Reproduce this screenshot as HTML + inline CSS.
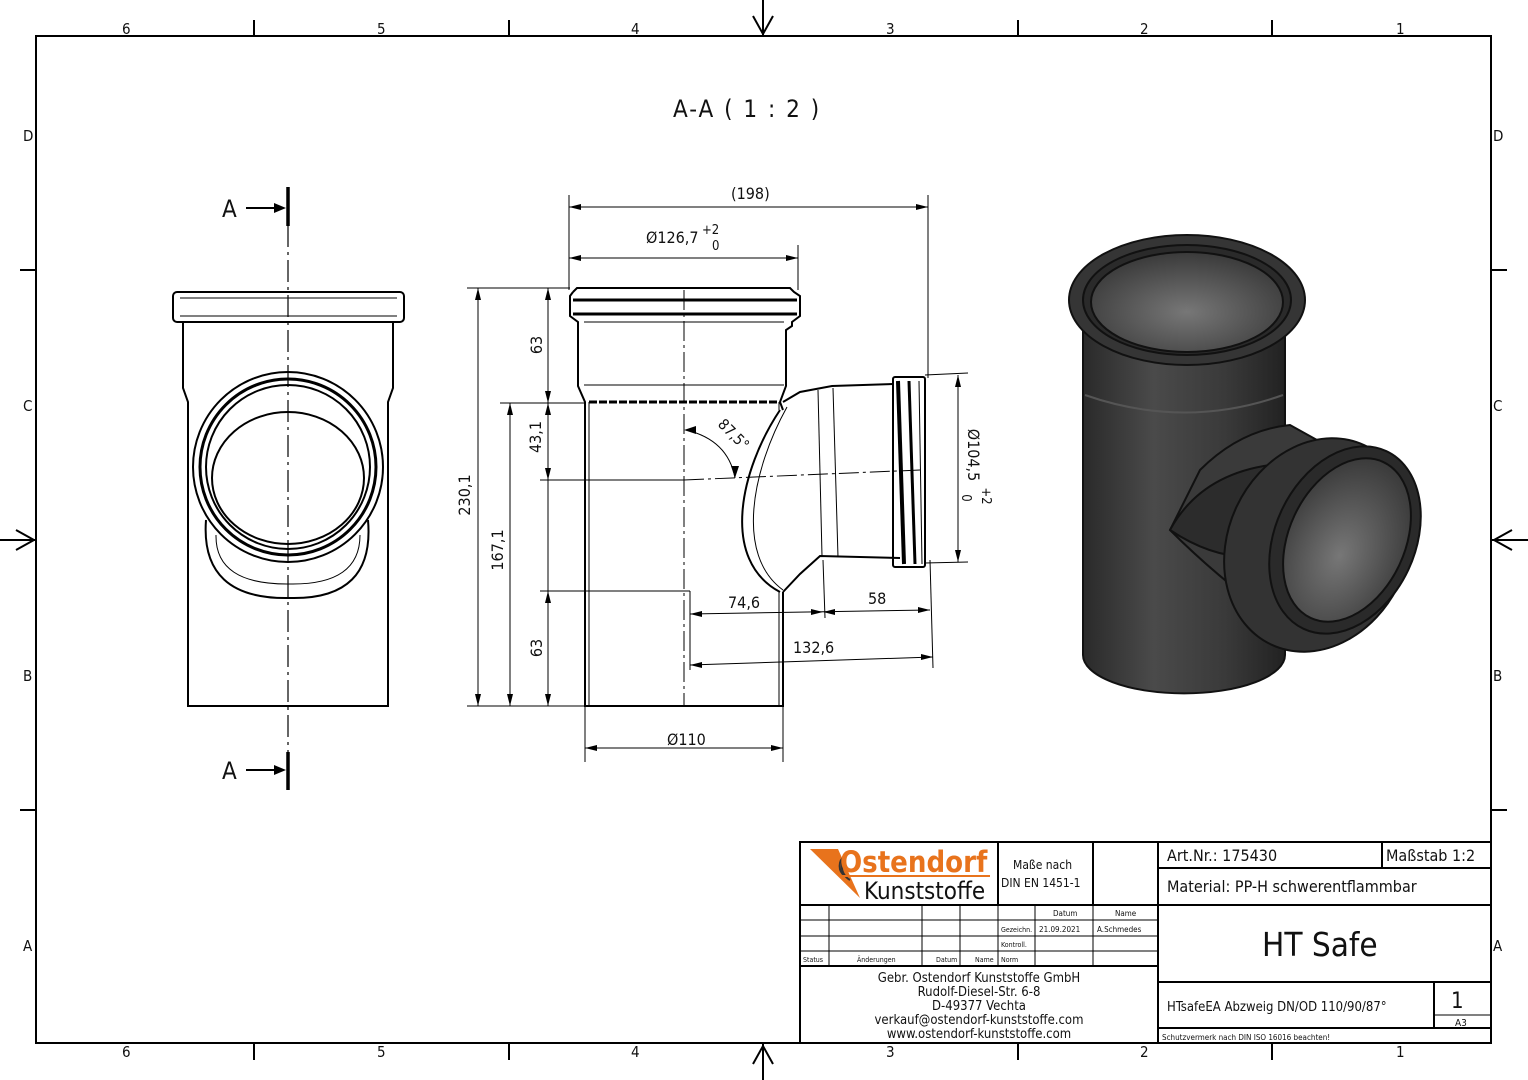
<!DOCTYPE html>
<html><head><meta charset="utf-8"><style>
html,body{margin:0;padding:0;background:#fff}
svg{display:block}
text{font-family:"DejaVu Sans Condensed","Liberation Sans Narrow","Liberation Sans",sans-serif;fill:#111}
</style></head><body>
<svg width="1528" height="1080" viewBox="0 0 1528 1080" xmlns="http://www.w3.org/2000/svg">
<defs>
<linearGradient id="cyl" x1="0" x2="1" y1="0" y2="0">
<stop offset="0" stop-color="#2a2a2a"/><stop offset="0.35" stop-color="#4a4a4a"/><stop offset="0.7" stop-color="#3a3a3a"/><stop offset="1" stop-color="#222"/></linearGradient>
<radialGradient id="inner" cx="0.5" cy="0.6" r="0.6"><stop offset="0" stop-color="#777"/><stop offset="1" stop-color="#3a3a3a"/></radialGradient>
</defs>
<g stroke="#000" fill="none">
<rect x="36" y="36" width="1455" height="1007" stroke-width="2"/>
<g stroke-width="2">
<line x1="254" y1="20" x2="254" y2="36"/><line x1="509" y1="20" x2="509" y2="36"/><line x1="1018" y1="20" x2="1018" y2="36"/><line x1="1272" y1="20" x2="1272" y2="36"/>
<line x1="254" y1="1043" x2="254" y2="1060"/><line x1="509" y1="1043" x2="509" y2="1060"/><line x1="1018" y1="1043" x2="1018" y2="1060"/><line x1="1272" y1="1043" x2="1272" y2="1060"/>
<line x1="20" y1="270" x2="36" y2="270"/><line x1="20" y1="810" x2="36" y2="810"/>
<line x1="1491" y1="270" x2="1507" y2="270"/><line x1="1491" y1="810" x2="1507" y2="810"/>
<line x1="763" y1="0" x2="763" y2="36"/><line x1="763" y1="1043" x2="763" y2="1080"/>
<line x1="0" y1="540" x2="36" y2="540"/><line x1="1491" y1="540" x2="1528" y2="540"/>
<polyline points="753,16 763,34 773,16"/><polyline points="753,1064 763,1046 773,1064"/>
<polyline points="16,530 34,540 16,550"/><polyline points="1512,530 1494,540 1512,550"/>
</g>
</g>
<g font-size="15">
<text x="122" y="34">6</text><text x="377" y="34">5</text><text x="631" y="34">4</text><text x="886" y="34">3</text><text x="1140" y="34">2</text><text x="1396" y="34">1</text>
<text x="122" y="1057">6</text><text x="377" y="1057">5</text><text x="631" y="1057">4</text><text x="886" y="1057">3</text><text x="1140" y="1057">2</text><text x="1396" y="1057">1</text>
<text x="23" y="141">D</text><text x="23" y="411">C</text><text x="23" y="681">B</text><text x="23" y="951">A</text>
<text x="1493" y="141">D</text><text x="1493" y="411">C</text><text x="1493" y="681">B</text><text x="1493" y="951">A</text>
</g>
<text x="673" y="117" font-size="24" letter-spacing="2">A-A ( 1 : 2 )</text>

<!-- LEFT VIEW -->
<g stroke="#000" fill="none" stroke-width="2">
<rect x="173" y="292" width="231" height="30" rx="4"/>
<line x1="180" y1="298" x2="397" y2="298" stroke-width="1"/>
<line x1="180" y1="316" x2="397" y2="316" stroke-width="1"/>
<polyline points="183,322 183,388 188,402 188,706 388,706 388,402 393,388 393,322"/>
<path d="M206,520 Q200,600 290,598 Q375,600 368,520"/>
<path d="M216,535 Q215,585 290,584 Q360,585 360,535" stroke-width="1"/>
<circle cx="288" cy="467" r="95" fill="#fff"/>
<circle cx="288" cy="467" r="88" stroke-width="3"/>
<circle cx="288" cy="467" r="82"/>
<ellipse cx="288" cy="478" rx="76" ry="66"/>
</g>
<line x1="288" y1="190" x2="288" y2="790" stroke="#000" stroke-width="1.2" stroke-dasharray="22,5,3,5"/>
<line x1="288" y1="187" x2="288" y2="226" stroke="#000" stroke-width="3.5"/>
<line x1="288" y1="752" x2="288" y2="790" stroke="#000" stroke-width="3.5"/>
<g stroke="#000" stroke-width="2"><line x1="246" y1="208" x2="278" y2="208"/><line x1="246" y1="770" x2="278" y2="770"/></g>
<polygon points="286,208 274,203 274,213"/><polygon points="286,770 274,765 274,775"/>
<text x="222" y="217" font-size="24">A</text><text x="222" y="779" font-size="24">A</text>

<!-- MIDDLE SECTION -->
<g stroke="#000" fill="none" stroke-width="2">
<path d="M573,292 L577,288 L790,288 L794,292 L800,296 L800,316 L792,322 L792,326 L786,330 L786,386 L780,402 L783,410"/>
<path d="M573,292 L570,296 L570,316 L578,322 L578,386 L585,402 L585,706 L783,706 L783,592"/>
<line x1="573" y1="300" x2="797" y2="300" stroke-width="3"/>
<line x1="573" y1="314" x2="797" y2="314" stroke-width="3"/>
<line x1="584" y1="322" x2="784" y2="322" stroke-width="1"/>
<line x1="584" y1="385" x2="784" y2="385" stroke-width="1"/>
<line x1="589" y1="402" x2="779" y2="402" stroke-width="3" stroke-dasharray="8,2"/>
<line x1="589" y1="402" x2="589" y2="706" stroke-width="1"/>
<line x1="779" y1="402" x2="779" y2="410" stroke-width="1"/>
<line x1="779" y1="592" x2="779" y2="706" stroke-width="1"/>
<path d="M783,402 L800,392 L832,386 L893,384"/>
<path d="M780,410 C740,470 720,560 780,592"/>
<path d="M787,407 C752,470 735,555 783,590" stroke-width="1"/>
<path d="M783,592 L800,574 L820,556 L900,558"/>
<line x1="818" y1="390" x2="822" y2="556" stroke-width="1"/>
<line x1="833" y1="388" x2="838" y2="557" stroke-width="1"/>
<rect x="893" y="377" width="32" height="190" rx="2"/>
<line x1="898" y1="381" x2="904" y2="564" stroke-width="4"/>
<line x1="909" y1="381" x2="915" y2="564" stroke-width="3"/>
<line x1="919" y1="381" x2="922" y2="564" stroke-width="1"/>
</g>
<g stroke="#000" stroke-width="1" fill="none">
<line x1="684" y1="290" x2="684" y2="706" stroke-dasharray="20,4,3,4"/>
<line x1="684" y1="480" x2="920" y2="470" stroke-dasharray="20,4,3,4"/>
<path d="M686,430 Q728,440 735,478"/>
</g>
<polygon points="684,430 696,426 696,434"/><polygon points="735,478 731,466 739,466"/>
<text font-size="15" text-anchor="middle" transform="translate(730,438) rotate(45)">87,5°</text>

<!-- dimensions -->
<g stroke="#000" stroke-width="1">
<line x1="569" y1="195" x2="569" y2="290"/><line x1="928" y1="195" x2="928" y2="378"/>
<line x1="569" y1="207" x2="928" y2="207"/>
<line x1="798" y1="245" x2="798" y2="290"/><line x1="569" y1="258" x2="798" y2="258"/>
<line x1="467" y1="288" x2="570" y2="288"/><line x1="500" y1="403" x2="585" y2="403"/>
<line x1="540" y1="480" x2="684" y2="480"/><line x1="540" y1="591" x2="690" y2="591"/>
<line x1="467" y1="706" x2="585" y2="706"/>
<line x1="478" y1="288" x2="478" y2="706"/><line x1="510" y1="403" x2="510" y2="706"/>
<line x1="548" y1="288" x2="548" y2="706"/>
<line x1="585" y1="706" x2="585" y2="762"/><line x1="783" y1="706" x2="783" y2="762"/>
<line x1="585" y1="748" x2="783" y2="748"/>
<line x1="690" y1="591" x2="690" y2="670"/>
<line x1="690" y1="614" x2="930" y2="610"/><line x1="823" y1="560" x2="825" y2="618"/>
<line x1="930" y1="560" x2="933" y2="668"/>
<line x1="690" y1="665" x2="933" y2="657"/>
<line x1="925" y1="375" x2="968" y2="373"/><line x1="925" y1="563" x2="968" y2="562"/>
<line x1="958" y1="375" x2="958" y2="562"/>
</g>
<g fill="#000">
<polygon points="569,207 581,204 581,210"/><polygon points="928,207 916,204 916,210"/>
<polygon points="569,258 581,255 581,261"/><polygon points="798,258 786,255 786,261"/>
<polygon points="478,288 475,300 481,300"/><polygon points="478,706 475,694 481,694"/>
<polygon points="510,403 507,415 513,415"/><polygon points="510,706 507,694 513,694"/>
<polygon points="548,288 545,300 551,300"/><polygon points="548,403 545,391 551,391"/>
<polygon points="548,403 545,415 551,415"/><polygon points="548,480 545,468 551,468"/>
<polygon points="548,591 545,603 551,603"/><polygon points="548,706 545,694 551,694"/>
<polygon points="585,748 597,745 597,751"/><polygon points="783,748 771,745 771,751"/>
<polygon points="690,614 702,611 702,617"/><polygon points="823,612 811,609 811,615"/>
<polygon points="823,612 835,609 835,615"/><polygon points="930,610 918,607 918,613"/>
<polygon points="690,665 702,662 702,668"/><polygon points="933,657 921,654 921,660"/>
<polygon points="958,375 955,387 961,387"/><polygon points="958,562 955,550 961,550"/>
</g>
<g font-size="16">
<text x="731" y="199">(198)</text>
<text x="646" y="243">Ø126,7</text><text x="702" y="234" font-size="13">+2</text><text x="712" y="250" font-size="13">0</text>
<g text-anchor="middle">
<text transform="translate(470,495) rotate(-90)">230,1</text>
<text transform="translate(503,550) rotate(-90)">167,1</text>
<text transform="translate(542,345) rotate(-90)">63</text>
<text transform="translate(541,437) rotate(-90)">43,1</text>
<text transform="translate(542,648) rotate(-90)">63</text>
<text transform="translate(968,455) rotate(90)">Ø104,5</text>
<text font-size="13" transform="translate(982,496) rotate(90)">+2</text>
<text font-size="13" transform="translate(962,498) rotate(90)">0</text>
</g>
<text x="667" y="745">Ø110</text>
<text x="728" y="608">74,6</text><text x="868" y="604">58</text><text x="793" y="653">132,6</text>
</g>

<!-- 3D render -->
<g stroke="#111" stroke-width="2">
<path d="M1083,330 L1083,655 A100,38 0 0 0 1285,655 L1285,330 Z" fill="url(#cyl)"/>
<path d="M1085,395 Q1185,430 1283,395" fill="none" stroke="#555"/>
<path d="M1200,470 Q1240,430 1290,425 L1380,475 L1300,635 Q1230,590 1170,530 Z" fill="#3a3a3a"/>
<path d="M1170,530 Q1200,475 1270,465 L1285,550 Q1230,570 1170,530" fill="#2c2c2c"/>
<ellipse cx="1187" cy="300" rx="118" ry="65" fill="#353535"/>
<ellipse cx="1187" cy="300" rx="104" ry="55" fill="#2a2a2a"/>
<ellipse cx="1187" cy="302" rx="96" ry="50" fill="url(#inner)"/>
<ellipse cx="1318" cy="545" rx="90" ry="110" transform="rotate(25 1318 545)" fill="#333"/>
<ellipse cx="1345" cy="540" rx="70" ry="98" transform="rotate(25 1345 540)" fill="#2a2a2a"/>
<ellipse cx="1347" cy="540" rx="58" ry="86" transform="rotate(25 1347 540)" fill="url(#inner)"/>
</g>

<!-- TITLE BLOCK -->
<g stroke="#000" fill="none" stroke-width="2">
<rect x="800" y="842" width="691" height="201"/>
<line x1="1158" y1="842" x2="1158" y2="1043"/>
<line x1="800" y1="905" x2="1491" y2="905"/>
<line x1="800" y1="966" x2="1158" y2="966"/>
<line x1="998" y1="842" x2="998" y2="905"/><line x1="1093" y1="842" x2="1093" y2="905"/>
<line x1="1382" y1="842" x2="1382" y2="868"/><line x1="1158" y1="868" x2="1491" y2="868"/>
<line x1="1158" y1="982" x2="1491" y2="982"/><line x1="1158" y1="1028" x2="1491" y2="1028"/>
<line x1="1434" y1="982" x2="1434" y2="1028"/>
</g>
<g stroke="#000" stroke-width="1">
<line x1="800" y1="920" x2="1158" y2="920"/><line x1="800" y1="936" x2="1158" y2="936"/><line x1="800" y1="951" x2="1158" y2="951"/>
<line x1="829" y1="905" x2="829" y2="966"/><line x1="922" y1="905" x2="922" y2="966"/><line x1="960" y1="905" x2="960" y2="966"/>
<line x1="998" y1="905" x2="998" y2="966"/><line x1="1035" y1="905" x2="1035" y2="966"/><line x1="1093" y1="905" x2="1093" y2="966"/>
<line x1="1434" y1="1015" x2="1491" y2="1015"/>
</g>
<polygon points="810,849 838,849 860,898" fill="#e8731c"/>
<g fill="none" stroke="#333" stroke-width="2"><path d="M850,852 A16,16 0 0 0 850,880"/><path d="M845,856 A12,12 0 0 0 845,876"/></g>
<text x="840" y="872" font-size="29" font-weight="bold" style="fill:#e8731c">Ostendorf</text>
<line x1="840" y1="876" x2="990" y2="876" stroke="#e8731c" stroke-width="2"/>
<text x="864" y="899" font-size="24">Kunststoffe</text>
<g font-size="12"><text x="1013" y="869">Maße nach</text><text x="1001" y="887">DIN EN 1451-1</text></g>
<g font-size="8"><text x="1053" y="916">Datum</text><text x="1115" y="916">Name</text>
<text x="1001" y="932" font-size="7">Gezeichn.</text><text x="1039" y="932">21.09.2021</text><text x="1097" y="932">A.Schmedes</text>
<text x="1001" y="947" font-size="7">Kontroll.</text><text x="1001" y="962" font-size="7">Norm</text>
<text x="803" y="962" font-size="7">Status</text><text x="857" y="962" font-size="7">Änderungen</text><text x="936" y="962" font-size="7">Datum</text><text x="975" y="962" font-size="7">Name</text></g>
<g font-size="13" text-anchor="middle">
<text x="979" y="982">Gebr. Ostendorf Kunststoffe GmbH</text>
<text x="979" y="996">Rudolf-Diesel-Str. 6-8</text>
<text x="979" y="1010">D-49377 Vechta</text>
<text x="979" y="1024">verkauf@ostendorf-kunststoffe.com</text>
<text x="979" y="1038">www.ostendorf-kunststoffe.com</text>
</g>
<text x="1167" y="861" font-size="16">Art.Nr.: 175430</text>
<text x="1386" y="861" font-size="16">Maßstab 1:2</text>
<text x="1167" y="892" font-size="16">Material: PP-H schwerentflammbar</text>
<text x="1262" y="956" font-size="33">HT Safe</text>
<text x="1167" y="1011" font-size="13">HTsafeEA Abzweig DN/OD 110/90/87°</text>
<text x="1451" y="1008" font-size="22">1</text>
<text x="1455" y="1026" font-size="10">A3</text>
<text x="1162" y="1040" font-size="8">Schutzvermerk nach DIN ISO 16016 beachten!</text>
</svg>
</body></html>
